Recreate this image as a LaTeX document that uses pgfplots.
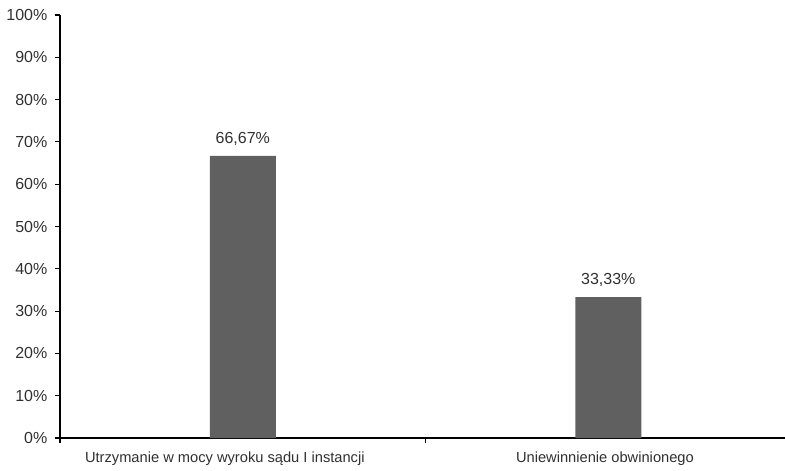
\documentclass[border=0pt]{standalone}
\usepackage{fontspec}
\setmainfont{Liberation Sans}
\usepackage{pgfplots}
\pgfplotsset{compat=1.18}
\definecolor{barc}{HTML}{606060}
\definecolor{txt}{HTML}{303030}
\begin{document}
\begin{tikzpicture}
\begin{axis}[
  scale only axis,
  width=548.25pt, height=317.25pt,
  xmin=0, xmax=2, ymin=0, ymax=100,
  axis x line*=bottom, axis y line*=left,
  axis line style={black, line width=0.8pt},
  every tick/.style={black, line width=0.8pt},
  tick align=outside, major tick length=4pt,
  xtick={0,1,2}, xticklabels={},
  extra x ticks={0.451,1.491},
  extra x tick labels={Utrzymanie w mocy wyroku sądu I instancji, Uniewinnienie obwinionego},
  extra x tick style={major tick length=0pt, tick label style={yshift=-7pt, font=\fontsize{11}{13}\selectfont}},
  ytick={0,10,...,100},
  yticklabel={\pgfmathprintnumber{\tick}\%},
  yticklabel style={xshift=-2pt},
  /pgf/number format/assume math mode=true,
  tick label style={font=\fontsize{12}{14}\selectfont, text=txt},
  ybar, bar width=49.5pt,
  nodes near coords={\pgfmathprintnumber[fixed,precision=2,fixed zerofill,use comma]{\pgfplotspointmeta}\%},
  every node near coord/.append style={font=\fontsize{12}{14}\selectfont, text=txt, yshift=4pt},
]
\addplot[fill=barc, draw=none] coordinates {(0.5,66.67) (1.5,33.33)};
\coordinate (O) at (rel axis cs:0,0);
\end{axis}
\pgfresetboundingbox
\path ([shift={(-45pt,-24.75pt)}]O) rectangle ([shift={(543.75pt,328.5pt)}]O);
\end{tikzpicture}
\end{document}
